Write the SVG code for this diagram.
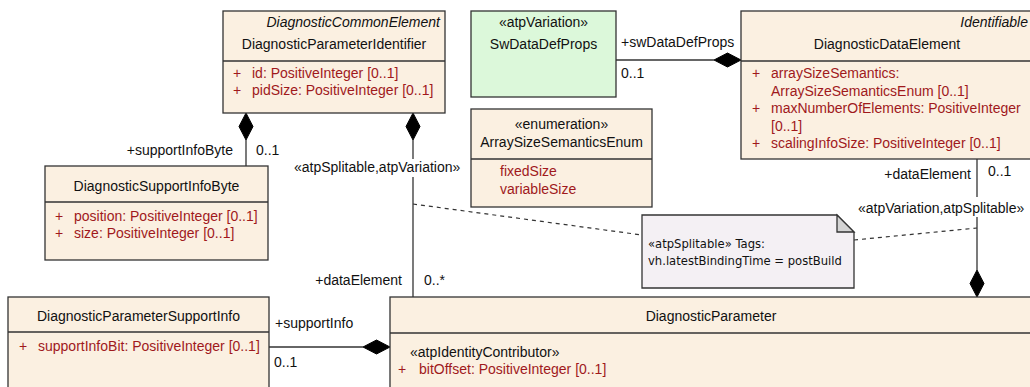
<svg xmlns="http://www.w3.org/2000/svg" width="1030" height="387" viewBox="0 0 1030 387">
<style>
.box{fill:#FBF0E1;stroke:#333;stroke-width:1.3}
.green{fill:#DCF8DA;stroke:#333;stroke-width:1.3}
.div{stroke:#333;stroke-width:1.3}
.t{font-family:"Liberation Sans",Arial,sans-serif;font-size:14px;fill:#111}
.c{text-anchor:middle}
.r{text-anchor:end}
.i{font-style:italic}
.a{font-family:"Liberation Sans",Arial,sans-serif;font-size:14px;fill:#A0191C}
.ln{stroke:#333;stroke-width:1.3;fill:none}
.dash{stroke:#333;stroke-width:1.2;fill:none;stroke-dasharray:4,4}
.dia{fill:#000;stroke:#000;stroke-width:1}
.note{fill:#F4F0F4;stroke:#333;stroke-width:1.3}
.fold{fill:#D4D4D4;stroke:#333;stroke-width:1.3}
.nt{font-family:"DejaVu Sans",sans-serif;font-size:11.6px;fill:#111}
</style>

<g id="connectors">
  <line class="ln" x1="246" y1="140" x2="246" y2="166"/>
  <polygon class="dia" points="246,113 253,126.5 246,140 239,126.5"/>
  <line class="ln" x1="413" y1="140" x2="413" y2="297"/>
  <polygon class="dia" points="413,113 420,126.5 413,140 406,126.5"/>
  <line class="ln" x1="616" y1="60" x2="714" y2="60"/>
  <polygon class="dia" points="741,60 727.5,67 714,60 727.5,53"/>
  <line class="ln" x1="977" y1="159" x2="977" y2="270"/>
  <polygon class="dia" points="977,297 984,283.5 977,270 970,283.5"/>
  <line class="ln" x1="269" y1="347" x2="363" y2="347"/>
  <polygon class="dia" points="390,347 376.5,354 363,347 376.5,340"/>
  <line class="dash" x1="413" y1="204" x2="642" y2="235"/>
  <line class="dash" x1="854" y1="240" x2="977" y2="228"/>
  <text class="t r" x="233" y="155">+supportInfoByte</text>
  <text class="t" x="256" y="155">0..1</text>
  <rect x="293" y="159" width="177" height="18" fill="#fff"/>
  <text class="t" x="294" y="172">«atpSplitable,atpVariation»</text>
  <text class="t" x="621" y="47">+swDataDefProps</text>
  <text class="t" x="621" y="78">0..1</text>
  <text class="t r" x="971" y="179">+dataElement</text>
  <text class="t" x="988" y="176">0..1</text>
  <rect x="857" y="197" width="173" height="20" fill="#fff"/>
  <text class="t" x="858" y="213">«atpVariation,atpSplitable»</text>
  <text class="t r" x="402" y="285">+dataElement</text>
  <text class="t" x="424" y="285">0..*</text>
  <text class="t" x="275" y="328">+supportInfo</text>
  <text class="t" x="274" y="367">0..1</text>
</g>

<g id="DiagnosticParameterIdentifier">
  <rect class="box" x="223" y="11" width="222" height="102"/>
  <line class="div" x1="223" y1="61" x2="445" y2="61"/>
  <text class="t r i" x="440" y="27">DiagnosticCommonElement</text>
  <text class="t c" x="334" y="49">DiagnosticParameterIdentifier</text>
  <text class="a" x="233" y="78">+</text>
  <text class="a" x="252" y="78">id: PositiveInteger [0..1]</text>
  <text class="a" x="233" y="95">+</text>
  <text class="a" x="252" y="95">pidSize: PositiveInteger [0..1]</text>
</g>

<g id="SwDataDefProps">
  <rect class="green" x="471" y="11" width="145" height="86"/>
  <text class="t c" x="543.5" y="27">«atpVariation»</text>
  <text class="t c" x="543.5" y="49">SwDataDefProps</text>
</g>

<g id="ArraySizeSemanticsEnum">
  <rect class="box" x="471" y="109" width="181" height="98"/>
  <line class="div" x1="471" y1="159" x2="652" y2="159"/>
  <text class="t c" x="561.5" y="129">«enumeration»</text>
  <text class="t c" x="561.5" y="147">ArraySizeSemanticsEnum</text>
  <text class="a" x="500" y="176">fixedSize</text>
  <text class="a" x="500" y="194">variableSize</text>
</g>

<g id="DiagnosticDataElement">
  <rect class="box" x="741" y="11" width="292" height="148"/>
  <line class="div" x1="741" y1="61" x2="1033" y2="61"/>
  <text class="t r i" x="1028" y="27">Identifiable</text>
  <text class="t c" x="887" y="49">DiagnosticDataElement</text>
  <text class="a" x="752" y="78">+</text>
  <text class="a" x="771" y="78">arraySizeSemantics:</text>
  <text class="a" x="771" y="95.5">ArraySizeSemanticsEnum [0..1]</text>
  <text class="a" x="752" y="113">+</text>
  <text class="a" x="771" y="113">maxNumberOfElements: PositiveInteger</text>
  <text class="a" x="771" y="130.5">[0..1]</text>
  <text class="a" x="752" y="148">+</text>
  <text class="a" x="771" y="148">scalingInfoSize: PositiveInteger [0..1]</text>
</g>

<g id="DiagnosticSupportInfoByte">
  <rect class="box" x="45" y="166" width="223" height="94"/>
  <line class="div" x1="45" y1="202" x2="268" y2="202"/>
  <text class="t c" x="156.5" y="191">DiagnosticSupportInfoByte</text>
  <text class="a" x="55" y="221">+</text>
  <text class="a" x="74" y="221">position: PositiveInteger [0..1]</text>
  <text class="a" x="55" y="238">+</text>
  <text class="a" x="74" y="238">size: PositiveInteger [0..1]</text>
</g>

<g id="Note">
  <polygon class="note" points="642,215 837,215 854,232 854,288 642,288"/>
  <polygon class="fold" points="837,215 837,232 854,232"/>
  <text class="nt" x="648" y="248">«atpSplitable» Tags:</text>
  <text class="nt" x="648" y="265">vh.latestBindingTime = postBuild</text>
</g>

<g id="DiagnosticParameterSupportInfo">
  <rect class="box" x="8" y="297" width="261" height="100"/>
  <line class="div" x1="8" y1="332" x2="269" y2="332"/>
  <text class="t c" x="138.5" y="321">DiagnosticParameterSupportInfo</text>
  <text class="a" x="19" y="351">+</text>
  <text class="a" x="38" y="351">supportInfoBit: PositiveInteger [0..1]</text>
</g>

<g id="DiagnosticParameter">
  <rect class="box" x="390" y="297" width="642" height="100"/>
  <line class="div" x1="390" y1="333" x2="1032" y2="333"/>
  <text class="t c" x="711" y="321">DiagnosticParameter</text>
  <text class="t" x="410" y="357">«atpIdentityContributor»</text>
  <text class="a" x="398" y="374">+</text>
  <text class="a" x="419" y="374">bitOffset: PositiveInteger [0..1]</text>
</g>
</svg>
